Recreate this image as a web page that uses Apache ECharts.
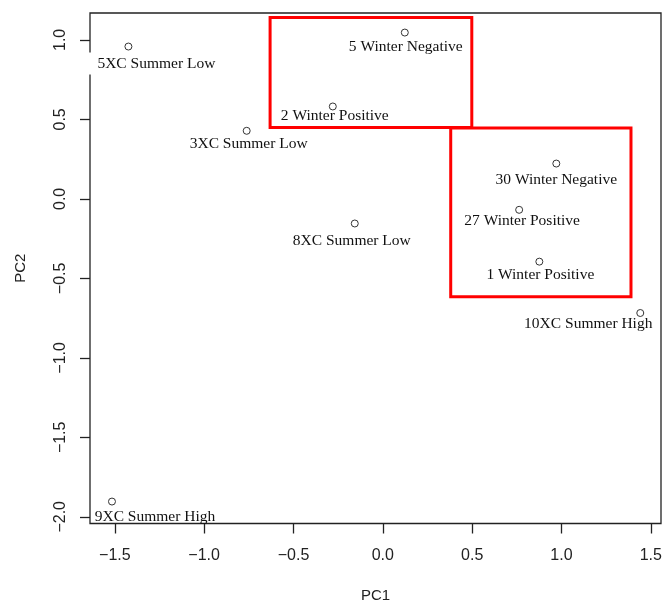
<!DOCTYPE html>
<html>
<head>
<meta charset="utf-8">
<script src="https://cdn.jsdelivr.net/npm/echarts@6/dist/echarts.min.js"></script>
<style>
  html, body { margin: 0; padding: 0; background: #fff; }
  #main { width: 662px; height: 601px; }
</style>
</head>
<body>
<div id="main"></div>
<script>
// sample names and PCA scores
const names = [
  '5XC Summer Low', '3XC Summer Low', '2 Winter Positive', '5 Winter Negative',
  '30 Winter Negative', '27 Winter Positive', '1 Winter Positive',
  '8XC Summer Low', '10XC Summer High', '9XC Summer High'
]
const pc1 = [-1.424, -0.762, -0.280, 0.123, 0.971, 0.763, 0.876, -0.157, 1.441, -1.516]
const pc2 = [0.958, 0.428, 0.581, 1.046, 0.222, -0.069, -0.395, -0.155, -0.718, -1.904]
const ticks = [-1.5, -1.0, -0.5, 0.0, 0.5, 1.0, 1.5]
const ticksY = [-2.0, -1.5, -1.0, -0.5, 0.0, 0.5, 1.0]
// red grouping boxes in data units: [x0, y0, x1, y1]
const boxes = [
  [-0.631, 1.141, 0.498, 0.449],
  [0.380, 0.445, 1.389, -0.615]
]

// label nudges in px (the labels were placed by hand in the original)
const labelOffsets = [[25.5, 17], [2, 13], [2, 9], [1, 14], [0, 16], [3, 11], [1, 13], [-3, 17], [-52, 11], [43, 15]]

const fmt = v => (v < 0 ? '\u2212' : '') + Math.abs(v).toFixed(1)

const points = names.map((n, i) => {
  const item = {
    name: n,
    value: [pc1[i], pc2[i]],
    label: { offset: labelOffsets[i] }
  }
  if (i === 0) {
    // white patch over the axis line, as in the original
    item.label.backgroundColor = '#fff'
    item.label.padding = [3, 4, 3, 9]
  }
  return item
})

const chart = echarts.init(document.getElementById('main'))
chart.setOption({
  animation: false,
  grid: {
    left: 90, right: 1, top: 13, bottom: 77.5,
    outerBoundsMode: 'none',
    containLabel: false,
    show: true, borderColor: '#222', borderWidth: 1.3
  },
  xAxis: {
    type: 'value',
    min: -1.639, max: 1.557,
    name: 'PC1', nameLocation: 'middle', nameGap: 65,
    nameTextStyle: { fontFamily: 'Liberation Sans', fontSize: 15, color: '#222' },
    axisLine: { show: false, onZero: false },
    splitLine: { show: false },
    axisTick: { show: true, length: 10, customValues: ticks, lineStyle: { color: '#222', width: 1.3 } },
    axisLabel: {
      customValues: ticks, formatter: fmt, margin: 24,
      fontFamily: 'Liberation Sans', fontSize: 16, color: '#222'
    }
  },
  yAxis: {
    type: 'value',
    min: -2.042, max: 1.169,
    name: 'PC2', nameLocation: 'middle', nameGap: 62,
    nameTextStyle: { fontFamily: 'Liberation Sans', fontSize: 15, color: '#222' },
    axisLine: { show: false, onZero: false },
    splitLine: { show: false },
    axisTick: { show: true, length: 10, customValues: ticksY, lineStyle: { color: '#222', width: 1.3 } },
    axisLabel: {
      customValues: ticksY, formatter: fmt, margin: 21, rotate: 90,
      fontFamily: 'Liberation Sans', fontSize: 16, color: '#222'
    }
  },
  series: [
    {
      type: 'scatter',
      symbol: 'circle',
      symbolSize: 7,
      z: 3,
      itemStyle: { color: 'rgba(255,255,255,0)', borderColor: '#333', borderWidth: 1, opacity: 1 },
      label: {
        show: true,
        position: 'inside',
        formatter: '{b}',
        align: 'center',
        verticalAlign: 'middle',
        fontFamily: 'Liberation Serif',
        fontSize: 15.5,
        color: '#111'
      },
      emphasis: { disabled: true },
      data: points,
      markArea: {
        silent: true,
        itemStyle: { color: 'rgba(0,0,0,0)', borderColor: '#ff0000', borderWidth: 3 },
        label: { show: false },
        data: boxes.map(b => [{ coord: [b[0], b[1]] }, { coord: [b[2], b[3]] }])
      }
    }
  ]
})
</script>
</body>
</html>
